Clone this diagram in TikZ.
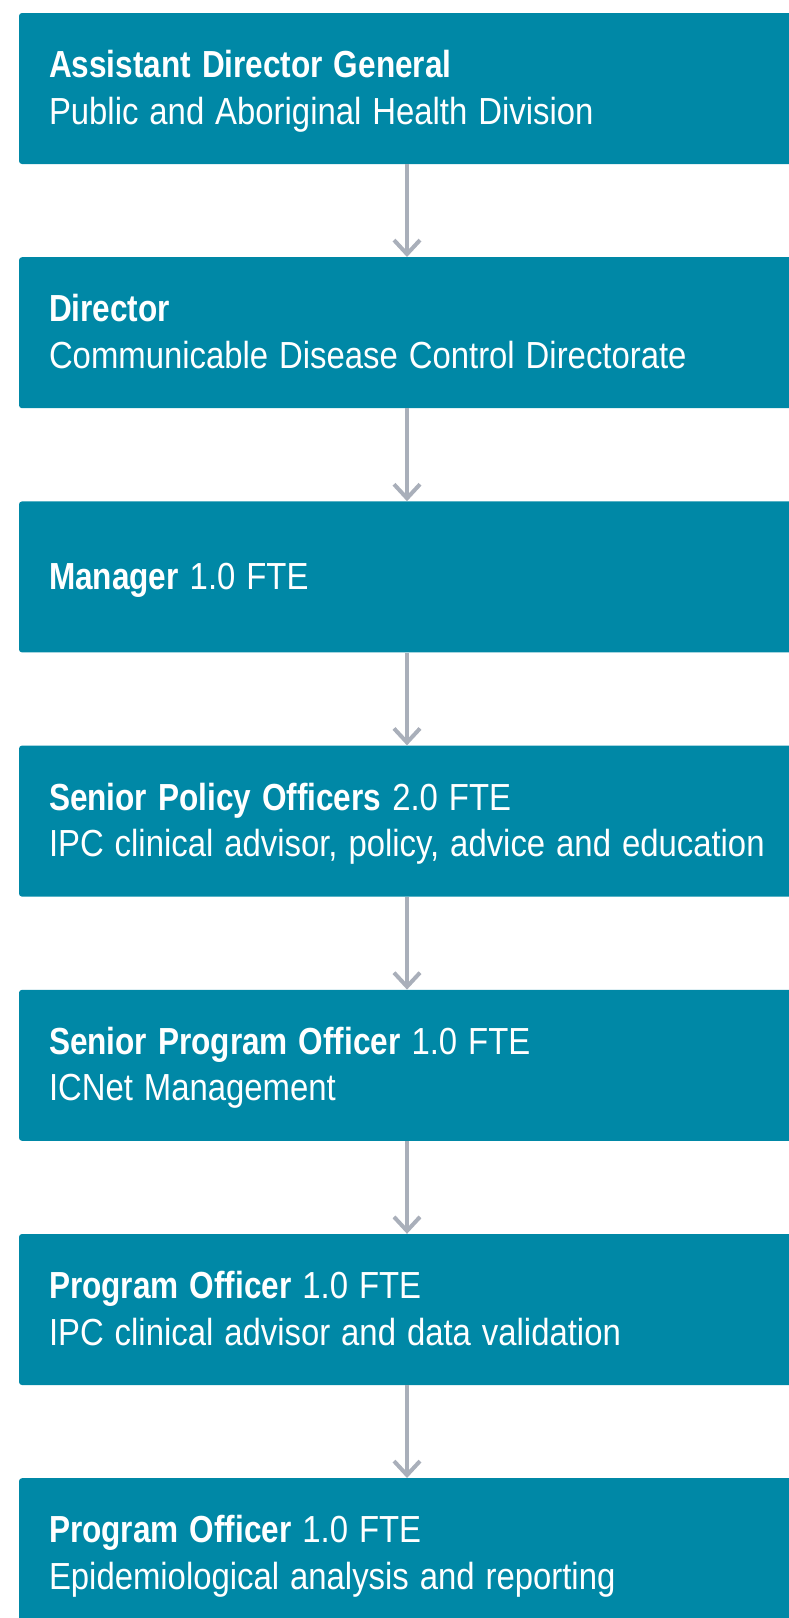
\documentclass[tikz,border=0pt]{standalone}
\usepackage{fontspec}
\setmainfont{Liberation Sans}[BoldFeatures={FakeStretch=0.96}]
\usepackage{graphicx}
\usepackage{tikz}
\usetikzlibrary{positioning, arrows.meta}
\usepackage{xcolor}
\definecolor{roleteal}{RGB}{0,136,166}
\definecolor{linkgrey}{RGB}{169,175,186}
\newcommand\roleFont{\fontsize{37.7}{46.5}\selectfont\spaceskip=0.19em\relax}
\newcommand\roleLines[1]{\raisebox{-3pt}[\height][\depth]{\scalebox{0.872}[1]{\begin{tabular}{@{}l@{}}#1\end{tabular}}}}
\tikzset{
    rolebox/.style={
        rectangle,
        rounded corners=3pt,
        fill=roleteal,
        text=white,
        minimum width=776pt,
        minimum height=151pt,
        text width=716pt,
        inner xsep=30pt,
        align=left,
        font=\roleFont
    },
    reportsto/.style={
        draw=linkgrey,
        line width=4pt,
        -{Straight Barb[length=14pt,width=26pt]}
    }
}

\begin{document}
\begin{tikzpicture}[x=1pt, y=1pt, node distance=92.8pt]

      \useasboundingbox (0,0) rectangle (788,-1618);

      \node[rolebox] (adg) at (407,-88.5) {\roleLines{\textbf{Assistant Director General}\\Public and Aboriginal Health Division}};
      \node[rolebox, below=of adg] (dir) {\roleLines{\textbf{Director}\\Communicable Disease Control Directorate}};
      \node[rolebox, below=of dir] (mgr) {\roleLines{\textbf{Manager} 1.0 FTE}};
      \node[rolebox, below=of mgr] (spo) {\roleLines{\textbf{Senior Policy Officers} 2.0 FTE\\IPC clinical advisor, policy, advice and education}};
      \node[rolebox, below=of spo] (sprog) {\roleLines{\textbf{Senior Program Officer} 1.0 FTE\\ICNet Management}};
      \node[rolebox, below=of sprog] (progA) {\roleLines{\textbf{Program Officer} 1.0 FTE\\IPC clinical advisor and data validation}};
      \node[rolebox, below=of progA] (progB) {\roleLines{\textbf{Program Officer} 1.0 FTE\\Epidemiological analysis and reporting}};

      \draw[reportsto] (adg) -- (dir);
      \draw[reportsto] (dir) -- (mgr);
      \draw[reportsto] (mgr) -- (spo);
      \draw[reportsto] (spo) -- (sprog);
      \draw[reportsto] (sprog) -- (progA);
      \draw[reportsto] (progA) -- (progB);

\end{tikzpicture}
\end{document}
